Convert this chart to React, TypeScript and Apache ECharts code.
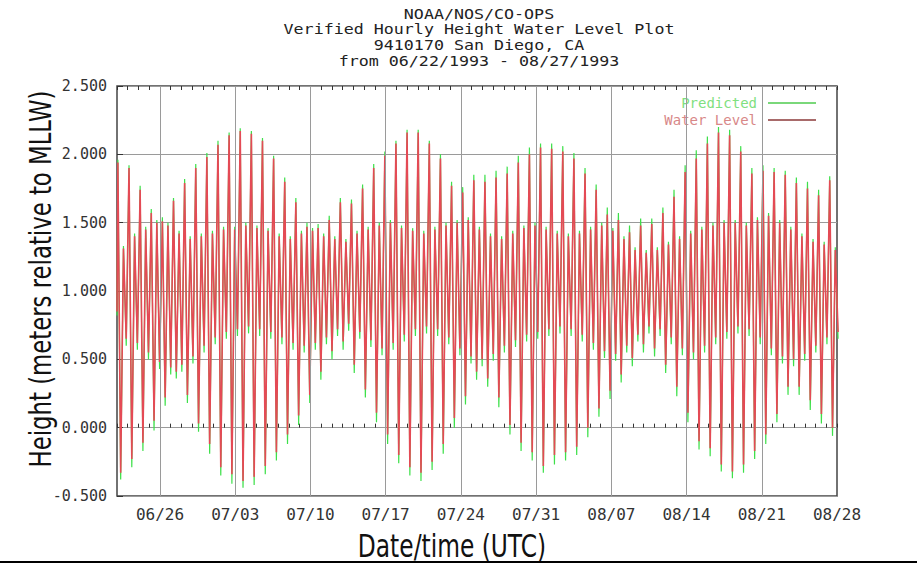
import React, { useEffect, useRef } from "react";
import * as echarts from "echarts";

// ---- Data ----
// Each tidal day (24.84 h) holds four extrema in order:
// higher high -> lower low -> lower high -> higher low.
const tideHigherHigh = [
  1.94, 1.90, 1.74, 1.57, 1.51, 1.66, 1.79, 1.90, 1.98, 2.07, 2.14, 2.17, 2.15, 2.10,
  1.97, 1.80, 1.65, 1.47, 1.46, 1.52, 1.65, 1.64, 1.75, 1.90, 1.99, 2.08, 2.16,
  2.16, 2.08, 1.97, 1.77, 1.72, 1.81, 1.80, 1.83, 1.86, 1.94, 2.00, 2.05, 2.04,
  2.02, 1.97, 1.86, 1.74, 1.56, 1.52, 1.43, 1.48, 1.49, 1.57, 1.69, 1.87, 1.97,
  2.08, 2.16, 2.14, 2.02, 1.86, 1.88, 1.87, 1.85, 1.79, 1.75, 1.70, 1.81,
];
const tideLowerLow = [
  -0.33, -0.23, -0.11, 0.05, 0.22, 0.41, 0.24, 0.03, -0.12, -0.29, -0.34, -0.39, -0.36, -0.28,
  -0.18, -0.05, 0.09, 0.24, 0.41, 0.56, 0.63, 0.46, 0.28, 0.11, -0.05, -0.2, -0.29,
  -0.33, -0.25, -0.12, 0.07, 0.23, 0.41, 0.36, 0.22, 0.02, -0.11, -0.18, -0.28, -0.2,
  -0.18, -0.14, 0.0, 0.14, 0.27, 0.39, 0.51, 0.61, 0.58, 0.46, 0.3, 0.11, -0.1,
  -0.15, -0.27, -0.32, -0.27, -0.17, -0.05, 0.1, 0.3, 0.3, 0.2, 0.1, 0.0,
];
const tideLowerHigh = [
  1.31, 1.40, 1.45, 1.50, 1.48, 1.42, 1.38, 1.40, 1.42, 1.45, 1.45, 1.48, 1.46, 1.44,
  1.40, 1.38, 1.42, 1.44, 1.40, 1.38, 1.36, 1.42, 1.45, 1.48, 1.50, 1.46, 1.44,
  1.42, 1.45, 1.48, 1.50, 1.52, 1.45, 1.40, 1.38, 1.42, 1.46, 1.48, 1.45, 1.42,
  1.40, 1.42, 1.45, 1.48, 1.44, 1.38, 1.30, 1.28, 1.30, 1.34, 1.38, 1.42, 1.45,
  1.48, 1.50, 1.50, 1.48, 1.52, 1.55, 1.50, 1.45, 1.40, 1.36, 1.34, 1.30,
];
const tideHigherLow = [
  0.65, 0.62, 0.55, 0.48, 0.44, 0.46, 0.52, 0.60, 0.66, 0.70, 0.72, 0.74, 0.72, 0.70,
  0.66, 0.62, 0.60, 0.62, 0.66, 0.72, 0.76, 0.70, 0.64, 0.58, 0.62, 0.68, 0.72,
  0.74, 0.72, 0.66, 0.58, 0.52, 0.50, 0.54, 0.60, 0.64, 0.68, 0.70, 0.72, 0.74,
  0.72, 0.68, 0.62, 0.56, 0.54, 0.60, 0.68, 0.74, 0.72, 0.66, 0.58, 0.55, 0.60,
  0.66, 0.70, 0.74, 0.72, 0.66, 0.58, 0.52, 0.50, 0.54, 0.60, 0.66, 0.70,
];
const predHigherHigh = [
  1.96, 1.92, 1.77, 1.60, 1.54, 1.68, 1.82, 1.93, 2.01, 2.10, 2.16, 2.19, 2.17, 2.12,
  1.99, 1.83, 1.68, 1.50, 1.49, 1.55, 1.68, 1.67, 1.78, 1.93, 2.02, 2.10, 2.18,
  2.18, 2.10, 2.00, 1.80, 1.76, 1.85, 1.85, 1.88, 1.91, 1.99, 2.05, 2.08, 2.08,
  2.06, 2.01, 1.90, 1.78, 1.61, 1.57, 1.48, 1.53, 1.53, 1.61, 1.74, 1.92, 2.03,
  2.13, 2.20, 2.18, 2.06, 1.90, 1.92, 1.90, 1.88, 1.83, 1.80, 1.74, 1.84,
];
const predLowerLow = [
  -0.38, -0.29, -0.17, -0.02, 0.16, 0.36, 0.18, -0.03, -0.19, -0.35, -0.41, -0.44, -0.42, -0.34,
  -0.24, -0.12, 0.02, 0.18, 0.35, 0.5, 0.57, 0.4, 0.22, 0.04, -0.12, -0.26, -0.35,
  -0.39, -0.31, -0.19, 0.0, 0.17, 0.35, 0.3, 0.15, -0.05, -0.17, -0.24, -0.33, -0.27,
  -0.24, -0.2, -0.07, 0.08, 0.21, 0.33, 0.45, 0.55, 0.52, 0.4, 0.23, 0.04, -0.16,
  -0.21, -0.32, -0.37, -0.33, -0.23, -0.12, 0.04, 0.24, 0.24, 0.13, 0.03, -0.06,
];
const predLowerHigh = [
  1.33, 1.42, 1.47, 1.52, 1.50, 1.44, 1.40, 1.42, 1.44, 1.47, 1.47, 1.50, 1.48, 1.46,
  1.42, 1.40, 1.44, 1.46, 1.42, 1.40, 1.38, 1.44, 1.47, 1.50, 1.52, 1.48, 1.46,
  1.44, 1.47, 1.50, 1.52, 1.54, 1.47, 1.42, 1.40, 1.44, 1.48, 1.50, 1.47, 1.44,
  1.42, 1.44, 1.47, 1.50, 1.46, 1.40, 1.32, 1.30, 1.32, 1.36, 1.40, 1.44, 1.47,
  1.50, 1.52, 1.52, 1.50, 1.54, 1.57, 1.52, 1.47, 1.42, 1.38, 1.36, 1.32,
];
const predHigherLow = [
  0.60, 0.57, 0.50, 0.43, 0.39, 0.41, 0.47, 0.55, 0.61, 0.65, 0.67, 0.69, 0.67, 0.65,
  0.61, 0.57, 0.55, 0.57, 0.61, 0.67, 0.71, 0.65, 0.59, 0.53, 0.57, 0.63, 0.67,
  0.69, 0.67, 0.61, 0.53, 0.47, 0.45, 0.49, 0.55, 0.59, 0.63, 0.65, 0.67, 0.69,
  0.67, 0.63, 0.57, 0.51, 0.49, 0.55, 0.63, 0.69, 0.67, 0.61, 0.53, 0.50, 0.55,
  0.61, 0.65, 0.69, 0.67, 0.61, 0.53, 0.47, 0.45, 0.49, 0.55, 0.61, 0.65,
];
const waterLevelStart = 0.85; // level at 06/22 00:00
const predictedStart = 0.82;

// weekly ticks, in days since 1993-06-19 00:00 UTC
const weekTickDays = [7, 14, 21, 28, 35, 42, 49, 56, 63, 70];
const weekTickLabels = [
  "06/26", "07/03", "07/10", "07/17", "07/24", "07/31", "08/07", "08/14", "08/21", "08/28",
];
const yTickValues = [-0.5, 0, 0.5, 1, 1.5, 2, 2.5];
const titleLines = [
  "NOAA/NOS/CO-OPS",
  "Verified Hourly Height Water Level Plot",
  "9410170 San Diego, CA",
  "from 06/22/1993 - 08/27/1993",
];

const X_MIN = 3; // 06/22 00:00
const X_MAX = 70; // 08/28 00:00
const TIDAL_DAY_H = 24.84;
const FIRST_HH_H = 2;

function buildLine(hh: number[], ll: number[], lh: number[], hl: number[], start: number) {
  const pts: number[][] = [[X_MIN, start]];
  const q = TIDAL_DAY_H / 4;
  for (let k = 0; k < hh.length; k++) {
    const base = FIRST_HH_H + k * TIDAL_DAY_H;
    pts.push([X_MIN + base / 24, hh[k]]);
    pts.push([X_MIN + (base + q) / 24, ll[k]]);
    pts.push([X_MIN + (base + 2 * q) / 24, lh[k]]);
    pts.push([X_MIN + (base + 3 * q) / 24, hl[k]]);
  }
  return pts;
}

const MONO = "'DejaVu Sans Mono', 'Liberation Mono', monospace";

export default function App() {
  const ref = useRef<HTMLDivElement>(null);
  useEffect(() => {
    if (!ref.current) return;
    const chart = echarts.init(ref.current, undefined, { renderer: "svg" });
    const waterLevel = buildLine(tideHigherHigh, tideLowerLow, tideLowerHigh, tideHigherLow, waterLevelStart);
    const predicted = buildLine(predHigherHigh, predLowerLow, predLowerHigh, predHigherLow, predictedStart);

    const weekLabel = (v: number) => {
      const i = weekTickDays.findIndex((d) => Math.abs(d - v) < 1e-6);
      return i >= 0 ? weekTickLabels[i] : "";
    };

    const dayAxis = (position: "top" | "bottom", withLabels: boolean) => ({
      type: "value",
      position,
      min: X_MIN,
      max: X_MAX,
      interval: 1,
      axisLine: { show: false },
      axisTick: { show: true, inside: true, length: 4, lineStyle: { color: "#333", width: 1 } },
      axisLabel: withLabels
        ? {
            show: true,
            margin: 10,
            formatter: weekLabel,
            fontFamily: MONO,
            fontSize: 16,
            color: "#333",
            showMinLabel: true,
            showMaxLabel: true,
          }
        : { show: false },
      splitLine: { show: false },
    });

    const titleGraphics = titleLines.map((t, i) => ({
      type: "text",
      x: 479,
      y: 14 + i * 15.7,
      scaleX: 1.19,
      style: {
        text: t,
        fontFamily: MONO,
        fontSize: 14,
        fill: "#222",
        textAlign: "center",
        textVerticalAlign: "middle",
      },
    }));

    chart.setOption({
      animation: false,
      backgroundColor: "#ffffff",
      legend: {
        orient: "vertical",
        right: 96,
        top: 91,
        align: "right",
        icon: "rect",
        itemWidth: 48,
        itemHeight: 2,
        itemGap: 3,
        textStyle: { fontFamily: MONO, fontSize: 14, lineHeight: 14, padding: [0, 6, 0, 0] },
        data: [
          { name: "Predicted", itemStyle: { color: "#7ad87a" }, textStyle: { color: "#80e080" } },
          { name: "Water Level", itemStyle: { color: "#a86a6a" }, textStyle: { color: "#d88888" } },
        ],
      },
      grid: {
        left: 117,
        right: 80,
        top: 86,
        bottom: 69,
        show: true,
        borderColor: "#444",
        borderWidth: 1.5,
        backgroundColor: "transparent",
      },
      xAxis: [dayAxis("bottom", true), dayAxis("top", false)],
      yAxis: {
        type: "value",
        min: yTickValues[0],
        max: yTickValues[yTickValues.length - 1],
        interval: 0.5,
        axisLine: { show: false },
        axisTick: { show: true, inside: true, length: 6, lineStyle: { color: "#333" } },
        axisLabel: {
          margin: 10,
          formatter: (v: number) => v.toFixed(3),
          fontFamily: MONO,
          fontSize: 15,
          color: "#333",
        },
        splitLine: { show: true, lineStyle: { color: "#9a9a9a", width: 1 } },
      },
      series: [
        {
          name: "weekly grid",
          type: "line",
          xAxisIndex: 0,
          data: [],
          silent: true,
          markLine: {
            silent: true,
            symbol: ["none", "none"],
            label: { show: false },
            lineStyle: { color: "#9a9a9a", width: 1, type: "solid" },
            data: weekTickDays.slice(0, -1).map((d) => ({ xAxis: d })),
          },
        },
        {
          name: "Predicted",
          type: "line",
          xAxisIndex: 0,
          data: predicted,
          showSymbol: false,
          symbol: "none",
          clip: true,
          silent: true,
          lineStyle: { color: "#3ee04a", width: 1.2 },
          itemStyle: { color: "#7ad87a" },
        },
        {
          name: "Water Level",
          type: "line",
          xAxisIndex: 0,
          data: waterLevel,
          showSymbol: false,
          symbol: "none",
          clip: true,
          silent: true,
          lineStyle: { color: "#e44a55", width: 1.6 },
          itemStyle: { color: "#a86a6a" },
        },
      ],
      graphic: [
        ...titleGraphics,
        {
          type: "text",
          x: 40,
          y: 279,
          rotation: Math.PI / 2,
          scaleX: 0.76,
          style: {
            text: "Height (meters relative to MLLW)",
            fontFamily: "'DejaVu Sans', sans-serif",
            fontSize: 30,
            fill: "#111",
            textAlign: "center",
            textVerticalAlign: "middle",
          },
        },
        {
          type: "text",
          x: 452,
          y: 546,
          scaleX: 0.73,
          style: {
            text: "Date/time (UTC)",
            fontFamily: "'DejaVu Sans', sans-serif",
            fontSize: 32,
            fill: "#111",
            textAlign: "center",
            textVerticalAlign: "middle",
          },
        },
        {
          type: "line",
          shape: { x1: 0, y1: 562, x2: 917, y2: 562 },
          style: { stroke: "#000", lineWidth: 2 },
        },
      ],
    });
    return () => chart.dispose();
  }, []);

  return (
    <div
      ref={ref}
      style={{ position: "fixed", left: 0, top: 0, width: 917, height: 565, background: "#fff" }}
    />
  );
}
